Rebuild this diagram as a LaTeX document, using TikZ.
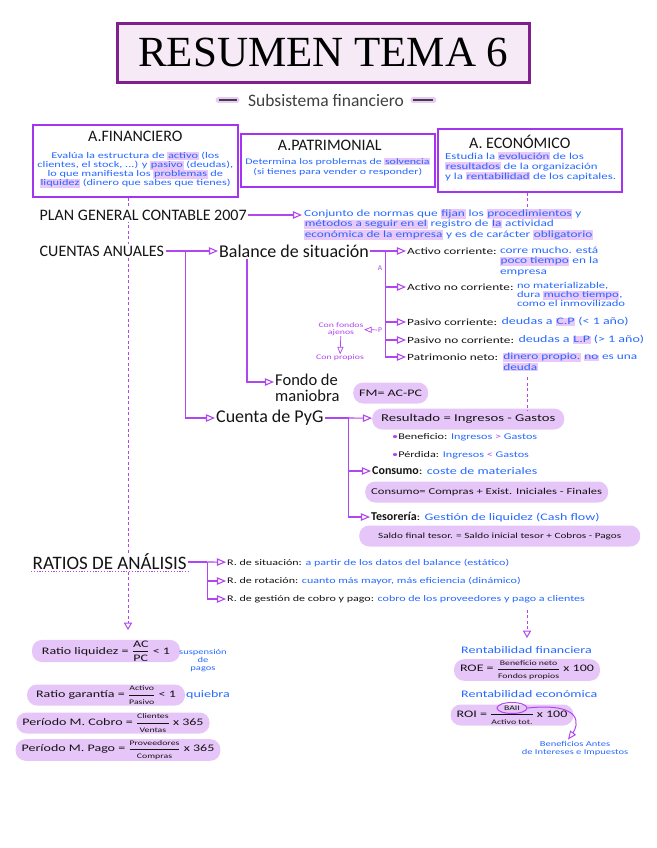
\documentclass[tikz,border=0pt]{standalone}
\usepackage{amsmath}
\usepackage{fontspec}
\setmainfont{Carlito}
\newfontfamily\handfont[FakeStretch=1.4]{Carlito}
\newfontfamily\handup{Carlito}
\newfontfamily\titlefont{Liberation Serif}
\usetikzlibrary{shapes.geometric, arrows, calc, positioning, backgrounds}
\definecolor{titleborder}{RGB}{128,32,140}
\definecolor{titlefill}{RGB}{246,234,246}
\definecolor{boxborder}{RGB}{163,52,240}
\definecolor{lnpurple}{RGB}{176,70,240}
\definecolor{hlpurple}{RGB}{234,200,250}
\definecolor{pillfill}{RGB}{230,198,248}
\definecolor{myblue}{RGB}{38,104,255}
\definecolor{inkblack}{RGB}{20,20,20}
\newcommand{\marker}[1]{{\setlength{\fboxsep}{0.6pt}\colorbox{hlpurple}{#1}}}
\newcommand{\ratio}[2]{$\dfrac{\text{\fontsize{7}{7}\selectfont #1}}{\text{\fontsize{7}{7}\selectfont #2}}$}
\tikzstyle{arrow} = [line width=1.1pt, draw=lnpurple, ->, >=open triangle 45]
\tikzstyle{branch} = [line width=1.1pt, draw=lnpurple]
\tikzstyle{dashlink} = [line width=1pt, draw=lnpurple, dash pattern=on 3pt off 2.5pt]
\tikzstyle{topbox} = [rectangle, draw=boxborder, line width=1.6pt, anchor=north west, inner sep=0pt]
\tikzstyle{boxhead} = [text=inkblack, font=\fontsize{16}{16}\handup, inner sep=0pt]
\tikzstyle{blu} = [text=myblue, font=\fontsize{9.5}{10.5}\handfont, inner sep=0pt]
\tikzstyle{hand} = [text=inkblack, font=\fontsize{9.5}{10}\handfont, inner sep=1pt, anchor=west]
\tikzstyle{bigtext} = [text=inkblack, font=\fontsize{18}{14}\handup, inner sep=1pt, anchor=west]
\tikzstyle{caps} = [text=inkblack, font=\fontsize{16}{16}\handup, fill=white, inner sep=1.5pt, anchor=west]
\tikzstyle{pill} = [fill=pillfill, rounded corners=10pt, minimum height=21pt, inner xsep=6pt, inner ysep=1pt, text=inkblack, font=\fontsize{10}{10}\handfont]
\tikzstyle{tinynote} = [text=lnpurple, font=\fontsize{7}{7}\handfont, inner sep=0.5pt, align=center]

\begin{document}
\begin{tikzpicture}[x=1pt, y=-1pt]
		\useasboundingbox (0,0) rectangle (656,848);
		% cabecera
		\node (TitleBox) [draw=titleborder, line width=2.6pt, fill=titlefill, minimum width=412pt, minimum height=59pt, anchor=north west] at (116,22) {};
		\node (Title) [font=\fontsize{43}{43}\titlefont] at (TitleBox.center) {RESUMEN TEMA 6};
		\node (Subtitle) [font=\fontsize{17.5}{17.5}\handup, text=black!75] at (326,100) {Subsistema financiero};
		\draw [line width=6pt, hlpurple, line cap=round] ($(Subtitle.west)+(-26,0)$) -- ($(Subtitle.west)+(-8,0)$);
		\draw [line width=1.2pt, black!75] ($(Subtitle.west)+(-26,0)$) -- ($(Subtitle.west)+(-8,0)$);
		\draw [line width=6pt, hlpurple, line cap=round] ($(Subtitle.east)+(6,0)$) -- ($(Subtitle.east)+(26,0)$);
		\draw [line width=1.2pt, black!75] ($(Subtitle.east)+(6,0)$) -- ($(Subtitle.east)+(26,0)$);
		% tipos de analisis
		\node (FinBox) [topbox, minimum width=205pt, minimum height=72pt] at (32,124) {};
		\node (FinHead) [boxhead, below = 7pt of FinBox.north] {A.FINANCIERO};
		\node (FinText) [blu, align=center, font=\fontsize{8.8}{9}\handfont, below = 28pt of FinBox.north] {Evalúa la estructura de \marker{activo} (los\\clientes, el stock, ...) y \marker{pasivo} (deudas),\\lo que manifiesta los \marker{problemas} de\\\marker{liquidez} (dinero que sabes que tienes)};
		\node (PatBox) [topbox, minimum width=194pt, minimum height=53pt] at (240,133) {};
		\node (PatHead) [boxhead, below = 7pt of PatBox.north, xshift=-8pt] {A.PATRIMONIAL};
		\node (PatText) [blu, align=center, font=\fontsize{8.5}{10}\handfont, below = 25pt of PatBox.north] {Determina los problemas de \marker{solvencia}\\(si tienes para vender o responder)};
		\node (EconBox) [topbox, minimum width=184pt, minimum height=63pt] at (437,128) {};
		\node (EconHead) [boxhead, below = 7pt of EconBox.north, xshift=-10pt] {A. ECONÓMICO};
		\node (EconText) [blu, align=left, font=\fontsize{9.2}{10}\handfont, anchor=north west] at (445,152) {Estudia la \marker{evolución} de los\\\marker{resultados} de la organización\\y la \marker{rentabilidad} de los capitales.};
		% PGC y cuentas anuales
		\node (PlanGeneral) [caps] at (38,215) {PLAN GENERAL CONTABLE 2007};
		\node (PlanText) [blu, align=left, anchor=north west] at (304,209) {Conjunto de normas que \marker{fijan} los \marker{procedimientos} y\\\marker{métodos a seguir en el} registro de \marker{la} actividad\\\marker{económica de la empresa} y es de carácter \marker{obligatorio}};
		\draw [arrow, shorten >=2pt] (PlanGeneral) -- (PlanGeneral -| PlanText.west);
		\node (CuentasAnuales) [caps] at (38,251) {CUENTAS ANUALES};
		\node (Balance) [bigtext] at (218,251) {Balance de situación};
		\node (CuentaPyG) [bigtext] at (215,418) {Cuenta de PyG};
		\node (Fondo) [bigtext, font=\fontsize{16.5}{15.5}\handup, align=left, anchor=north west] at (274,373) {Fondo de\\maniobra};
		\node (FondoPill) [pill, anchor=west, minimum width=74pt] at (353,393) {FM= AC-PC};
		\draw [arrow] (CuentasAnuales) -- (Balance);
		\draw [arrow] (CuentasAnuales.east) ++(20,0) |- (CuentaPyG);
		\draw [arrow] ($(Balance.south west)+(29,0)$) |- ($(Fondo.north west)+(0,9)$);
		% balance de situacion
		\node (ActivoC) [hand] at (406,251) {Activo corriente:};
		\node (ActivoCText) [blu, align=left, anchor=north west] at ($(ActivoC.north east)+(2,0)$) {corre mucho. está\\\marker{poco tiempo} en la\\empresa};
		\node (ActivoNC) [hand] at (406,287) {Activo no corriente:};
		\node (ActivoNCText) [blu, align=left, font=\fontsize{9}{9}\handfont, anchor=north west] at ($(ActivoNC.north east)+(2,0)$) {no materializable,\\dura \marker{mucho tiempo},\\como el inmovilizado};
		\node (PasivoC) [hand] at (406,322) {Pasivo corriente:};
		\node (PasivoCText) [blu, font=\fontsize{10}{10}\handfont, anchor=west] at ($(PasivoC.east)+(3,0)$) {deudas a \marker{C.P} (< 1 año)};
		\node (PasivoNC) [hand] at (406,340) {Pasivo no corriente:};
		\node (PasivoNCText) [blu, font=\fontsize{10}{10}\handfont, anchor=west] at ($(PasivoNC.east)+(3,0)$) {deudas a \marker{L.P} (> 1 año)};
		\node (Patrimonio) [hand] at (406,357) {Patrimonio neto:};
		\node (PatrimonioText) [blu, align=left, anchor=north west] at ($(Patrimonio.north east)+(3,0)$) {\marker{dinero propio.} \marker{no} es una\\\marker{deuda}};
		\draw [branch] (Balance.east) -- ++(15,0) coordinate (BalBranch);
		\draw [arrow] (BalBranch) -- (ActivoC);
		\draw [arrow] (BalBranch) |- (ActivoNC);
		\draw [arrow] (BalBranch) |- (PasivoC);
		\draw [arrow] (BalBranch) |- (PasivoNC);
		\draw [arrow] (BalBranch) |- (Patrimonio);
		\node (LetterA) [tinynote, font=\fontsize{7.5}{7.5}\handup] at (380,268) {A};
		\node (LetterP) [tinynote, font=\fontsize{7.5}{7.5}\handup] at (380,330) {P};
		\node (ConFondos) [tinynote] at (341,329) {Con fondos\\ajenos};
		\node (ConPropios) [tinynote] at (340,358) {Con propios};
		\draw [arrow, line width=0.7pt] (LetterP) -- (ConFondos);
		\draw [arrow, line width=0.7pt] (ConFondos) -- (ConPropios);
		% cuenta de PyG
		\node (Resultado) [pill, anchor=west, minimum width=192pt, font=\fontsize{10.5}{10.5}\handfont] at (372,419) {Resultado = Ingresos - Gastos};
		\node (Beneficio) [hand, font=\fontsize{8.7}{8.7}\handfont] at (391,437) {\textcolor{lnpurple}{•}Beneficio: \textcolor{myblue}{Ingresos \textcolor{lnpurple}{>} Gastos}};
		\node (Perdida) [hand, font=\fontsize{8.7}{8.7}\handfont] at (391,455) {\textcolor{lnpurple}{•}Pérdida: \textcolor{myblue}{Ingresos \textcolor{lnpurple}{<} Gastos}};
		\node (Consumo) [hand, font=\fontsize{10}{10}\handfont] at (371,471) {{\fontsize{12}{12}\handup\bfseries Consumo}: \textcolor{myblue}{coste de materiales}};
		\node (ConsumoPill) [pill, anchor=west, minimum width=242pt, font=\fontsize{9}{9}\handfont] at (365,492) {Consumo= Compras + Exist. Iniciales - Finales};
		\node (Tesoreria) [hand, font=\fontsize{10}{10}\handfont] at (370,517) {{\fontsize{12}{12}\handup\bfseries Tesorería}: \textcolor{myblue}{Gestión de liquidez (Cash flow)}};
		\node (SaldoPill) [pill, anchor=west, minimum width=281pt, font=\fontsize{8}{8}\handfont] at (359,536) {Saldo final tesor. = Saldo inicial tesor + Cobros - Pagos};
		\draw [branch] (CuentaPyG.east) -- ++(24,0) coordinate (PyGBranch);
		\draw [arrow] (PyGBranch) -- (Resultado);
		\draw [arrow] (PyGBranch) |- (Consumo);
		\draw [arrow] (PyGBranch) |- (Tesoreria);
		% ratios
		\node (Ratios) [caps, font=\fontsize{19}{19}\handup] at (31,562) {RATIOS DE ANÁLISIS};
		\draw [dashlink, dash pattern=on 1.2pt off 1.6pt] (Ratios.south west) -- (Ratios.south east);
		\node (RSituacion) [hand, font=\fontsize{8.6}{8.6}\handfont] at (226,563) {R. de situación: \textcolor{myblue}{a partir de los datos del balance (estático)}};
		\node (RRotacion) [hand, font=\fontsize{8.6}{8.6}\handfont] at (226,581) {R. de rotación: \textcolor{myblue}{cuanto más mayor, más eficiencia (dinámico)}};
		\node (RGestion) [hand, font=\fontsize{8.6}{8.6}\handfont] at (226,599) {R. de gestión de cobro y pago: \textcolor{myblue}{cobro de los proveedores y pago a clientes}};
		\draw [branch] (Ratios.east) -- ++(19,0) coordinate (RatBranch);
		\draw [arrow] (RatBranch) -- (RSituacion);
		\draw [arrow] (RatBranch) |- (RRotacion);
		\draw [arrow] (RatBranch) |- (RGestion);
		% ratios de liquidez y plazos
		\node (LiqPill) [pill, minimum width=148pt] at (106,651) {Ratio liquidez = $\dfrac{\text{AC}}{\text{PC}}$ < 1};
		\node (LiqNote) [blu, align=center, font=\fontsize{7.5}{8}\handfont] at (203,661) {suspensión\\de\\pagos};
		\node (GarPill) [pill, minimum width=158pt] at (106,695) {Ratio garantía = \ratio{Activo}{Pasivo} < 1};
		\node (GarNote) [blu, anchor=west, font=\fontsize{10}{10}\handfont] at (186,695) {quiebra};
		\node (CobroPill) [pill, minimum width=179pt] at (113,723) {Período M. Cobro = \ratio{Clientes}{Ventas} x 365};
		\node (PagoPill) [pill, minimum width=190pt] at (118,750) {Período M. Pago = \ratio{Proveedores}{Compras} x 365};
		% rentabilidad
		\node (RentFin) [blu, anchor=west, font=\fontsize{10}{10}\handfont] at (461,650) {Rentabilidad financiera};
		\node (ROEPill) [pill, minimum width=145pt] at (527,670) {ROE = \ratio{Beneficio neto}{Fondos propios} x 100};
		\node (RentEco) [blu, anchor=west, font=\fontsize{10}{10}\handfont] at (461,694) {Rentabilidad económica};
		\node (ROIPill) [pill, minimum width=115pt] at (512,715) {ROI = \ratio{BAII}{Activo tot.} x 100};
		\node (BAII) [ellipse, draw=lnpurple, line width=1pt, minimum width=30pt, minimum height=11pt, inner sep=0pt] at (512,708) {};
		\node (BeneficiosNote) [blu, align=center, font=\fontsize{7.5}{8}\handfont] at (575,749) {Beneficios Antes\\de Intereses e Impuestos};
		\draw [arrow, line width=1pt] (BAII.east) .. controls (585,702) and (578,726) .. ($(BeneficiosNote.north)+(-7,-2)$);
		% lineas discontinuas
		\coordinate (LiqTop) at (128,630);
		\coordinate (RentTop) at (527,638);
		\begin{pgfonlayer}{background}
		\draw [dashlink, ->, >=open triangle 60] (FinBox.south -| LiqTop) -- (LiqTop);
		\end{pgfonlayer}
		\draw [dashlink] (EconBox.south -| RentTop) -- ++(0,14);
		\draw [dashlink] (RentTop |- PatrimonioText.south) ++(0,6) -- ++(0,34);
		\draw [dashlink, ->, >=open triangle 60] (RentTop |- RGestion.south) ++(0,6) -- (RentTop);
\end{tikzpicture}
\end{document}
